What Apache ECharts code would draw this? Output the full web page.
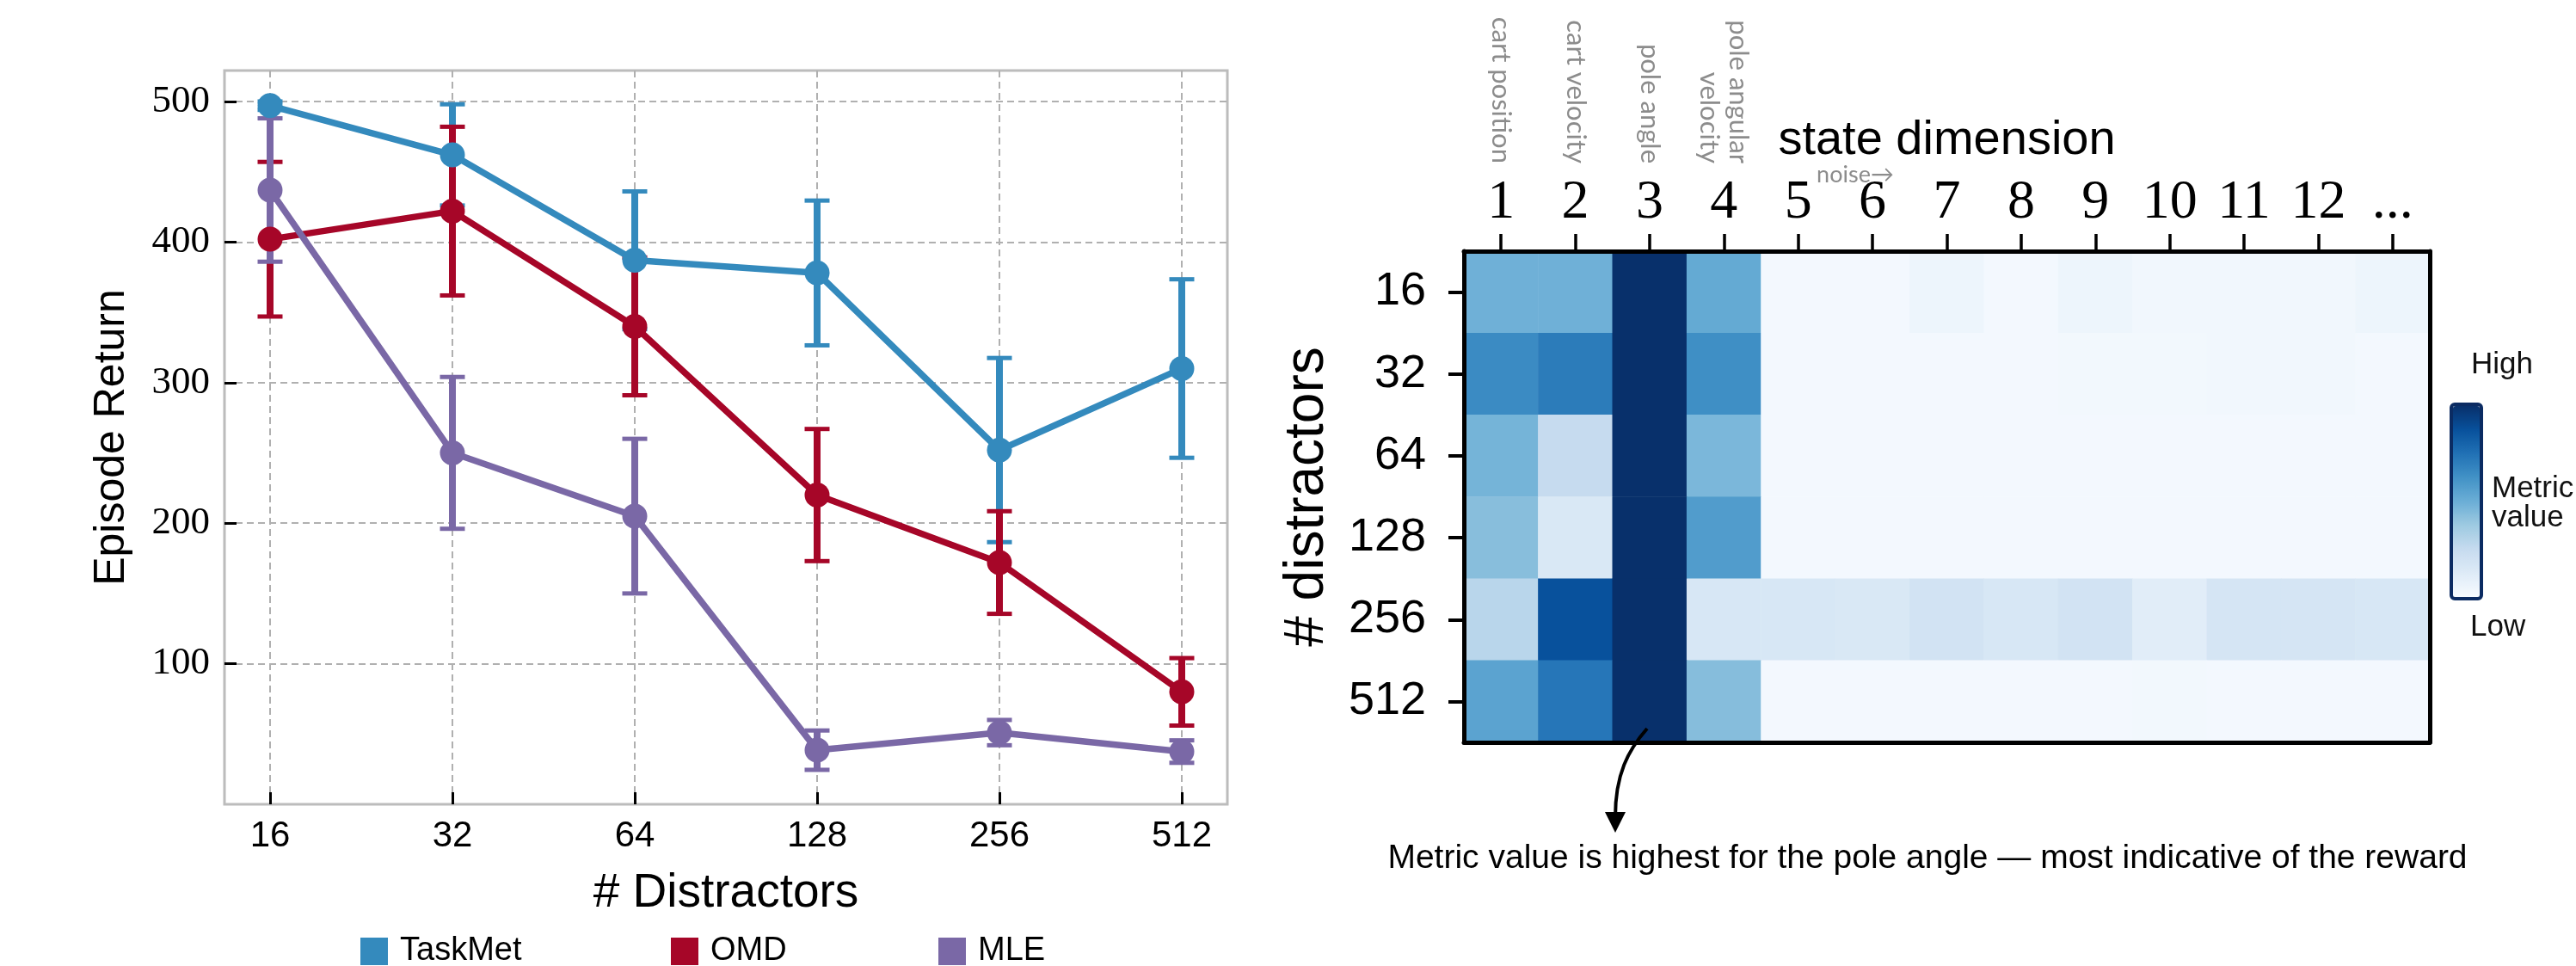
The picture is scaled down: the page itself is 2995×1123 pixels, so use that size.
<!DOCTYPE html>
<html>
<head>
<meta charset="utf-8">
<script src="https://cdn.jsdelivr.net/npm/echarts@6/dist/echarts.min.js"></script>
<style>html,body{margin:0;padding:0;background:#fff;}#c{width:2995px;height:1123px;}</style>
</head>
<body>
<div id="c"></div>
<script>
// ---------- Left panel data ----------
const xCats = ['16', '32', '64', '128', '256', '512'];
const yTicks = [100, 200, 300, 400, 500];
const taskMet = [497, 462, 387, 378, 252, 310];
const taskMetErr = [3, 36, 49, 51.5, 65.5, 63.5];
const omd = [402, 422, 340, 220, 172, 80];
const omdErr = [55, 60, 49, 47, 36.5, 24];
const mle = [437, 250, 205, 38.5, 51, 37.5];
const mleErr = [51, 54, 55, 14, 9, 8];
const seriesNames = ['TaskMet', 'OMD', 'MLE'];
const seriesColors = ['#348ABD', '#A60628', '#7A68A6'];

// ---------- Right panel data ----------
const distractors = ['16', '32', '64', '128', '256', '512'];
const stateDims = ['1', '2', '3', '4', '5', '6', '7', '8', '9', '10', '11', '12', '...'];
const dimNames = ['cart position', 'cart velocity', 'pole angle', 'pole angular\nvelocity', '', '', '', '', '', '', '', '', ''];
const row16  = [0.49, 0.49, 1.0, 0.52, 0.02, 0.02, 0.05, 0.02, 0.05, 0.03, 0.03, 0.03, 0.05];
const row32  = [0.65, 0.71, 1.0, 0.635, 0.02, 0.02, 0.02, 0.02, 0.025, 0.025, 0.03, 0.03, 0.02];
const row64  = [0.475, 0.25, 1.0, 0.46, 0.02, 0.02, 0.02, 0.02, 0.02, 0.02, 0.02, 0.02, 0.02];
const row128 = [0.43, 0.15, 1.0, 0.58, 0.02, 0.02, 0.02, 0.02, 0.02, 0.02, 0.02, 0.02, 0.02];
const row256 = [0.29, 0.875, 1.0, 0.16, 0.16, 0.15, 0.19, 0.16, 0.19, 0.11, 0.17, 0.17, 0.16];
const row512 = [0.55, 0.73, 1.0, 0.435, 0.02, 0.02, 0.02, 0.02, 0.02, 0.025, 0.02, 0.02, 0.02];
const heatRows = [row16, row32, row64, row128, row256, row512];
const bluesStops = ['#f7fbff', '#deebf7', '#c6dbef', '#9ecae1', '#6baed6', '#4292c6', '#2171b5', '#08519c', '#08306b'];

const SANS = "'Liberation Sans', Arial, sans-serif";
const SERIF = "'Liberation Serif', 'Times New Roman', serif";
const LATO = "Lato, 'Noto Sans', sans-serif";

const chart = echarts.init(document.getElementById('c'), null, {renderer: 'canvas'});

function errSeries(name, vals, errs, color) {
  return {
    type: 'custom', name: name + ' err', xAxisIndex: 0, yAxisIndex: 0, z: 2,
    data: vals.map((v, i) => [i, v - errs[i], v + errs[i]]),
    renderItem: function (params, api) {
      const x = api.value(0);
      const pLo = api.coord([x, api.value(1)]);
      const pHi = api.coord([x, api.value(2)]);
      const hw = 14.5;
      const st = {stroke: color, lineWidth: 8};
      const cs = {stroke: color, lineWidth: 5};
      return {type: 'group', children: [
        {type: 'line', shape: {x1: pLo[0], y1: pLo[1], x2: pHi[0], y2: pHi[1]}, style: st},
        {type: 'line', shape: {x1: pLo[0] - hw, y1: pLo[1], x2: pLo[0] + hw, y2: pLo[1]}, style: cs},
        {type: 'line', shape: {x1: pHi[0] - hw, y1: pHi[1], x2: pHi[0] + hw, y2: pHi[1]}, style: cs}
      ]};
    }
  };
}
function lineSeries(name, vals, color) {
  return {
    type: 'line', name: name, xAxisIndex: 0, yAxisIndex: 0, z: 3,
    data: vals.map((v, i) => [i, v]),
    symbol: 'circle', symbolSize: 29, showSymbol: true,
    lineStyle: {color: color, width: 7.5},
    itemStyle: {color: color},
    animation: false
  };
}
function legendItem(name, left) {
  return {
    data: [name], left: left, top: 1082, icon: 'rect', itemWidth: 32, itemHeight: 32,
    textStyle: {fontFamily: SANS, fontSize: 38, color: '#000', padding: [0, 0, 0, 9]}
  };
}

const heatData = [];
heatRows.forEach((row, r) => row.forEach((v, c) => heatData.push([c, r, v])));
const xIdx = xCats.map((_, i) => i);

const option = {
  animation: false,
  backgroundColor: '#ffffff',
  grid: [
    {left: 261, top: 82, width: 1166, height: 853, show: true, borderColor: '#bcbcbc', borderWidth: 3, backgroundColor: 'transparent'},
    {left: 1702, top: 292, width: 1123, height: 571, show: false}
  ],
  xAxis: [
    {
      type: 'value', gridIndex: 0, min: -0.25, max: 5.25,
      axisLine: {show: false, onZero: false},
      axisTick: {show: true, inside: true, length: 14, lineStyle: {color: '#000', width: 3}, customValues: xIdx},
      axisLabel: {customValues: xIdx, formatter: v => xCats[Math.round(v)], fontFamily: SANS, fontSize: 42, color: '#000', margin: 16},
      splitLine: {show: true, lineStyle: {color: '#b0b0b0', type: [8, 5], width: 2}},
      name: '# Distractors', nameLocation: 'middle', nameGap: 76,
      nameTextStyle: {fontFamily: SANS, fontSize: 55, color: '#000'}
    },
    {
      type: 'category', gridIndex: 1, data: stateDims, position: 'top', z: 5,
      axisLine: {show: true, lineStyle: {color: '#000', width: 5}},
      axisTick: {show: true, alignWithLabel: true, length: 20, lineStyle: {color: '#000', width: 3.5}},
      axisLabel: {fontFamily: SERIF, fontSize: 64, color: '#000', margin: 24, interval: 0},
      splitLine: {show: false},
      name: 'state dimension', nameLocation: 'middle', nameGap: 100,
      nameTextStyle: {fontFamily: SANS, fontSize: 56, color: '#000'}
    },
    {
      type: 'category', gridIndex: 1, data: dimNames, position: 'top', offset: 102,
      axisLine: {show: false}, axisTick: {show: false}, splitLine: {show: false},
      axisLabel: {rotate: 90, interval: 0, margin: 0, color: '#8c8c8c', fontFamily: LATO, fontSize: 31, lineHeight: 34}
    },
    {
      type: 'category', gridIndex: 1, data: stateDims, position: 'bottom', z: 5,
      axisLine: {show: true, onZero: false, lineStyle: {color: '#000', width: 5}},
      axisTick: {show: false}, axisLabel: {show: false}, splitLine: {show: false}
    }
  ],
  yAxis: [
    {
      type: 'value', gridIndex: 0, min: 0, max: 522, interval: 100,
      axisLine: {show: false, onZero: false},
      axisTick: {show: true, inside: true, length: 14, lineStyle: {color: '#000', width: 3}, customValues: yTicks},
      axisLabel: {customValues: yTicks, fontFamily: SERIF, fontSize: 45, color: '#000', margin: 17},
      splitLine: {show: true, lineStyle: {color: '#b0b0b0', type: [8, 5], width: 2}},
      name: 'Episode Return', nameLocation: 'middle', nameGap: 106,
      nameTextStyle: {fontFamily: SANS, fontSize: 50, color: '#000'}
    },
    {
      type: 'category', gridIndex: 1, data: distractors, inverse: true, position: 'left', z: 5,
      axisLine: {show: true, onZero: false, lineStyle: {color: '#000', width: 5}},
      axisTick: {show: true, alignWithLabel: true, length: 18, lineStyle: {color: '#000', width: 4}},
      axisLabel: {fontFamily: SANS, fontSize: 54, color: '#000', margin: 44},
      splitLine: {show: false},
      name: '# distractors', nameLocation: 'middle', nameGap: 150,
      nameTextStyle: {fontFamily: SANS, fontSize: 64, color: '#000'}
    },
    {
      type: 'category', gridIndex: 1, data: distractors, inverse: true, position: 'right', z: 5,
      axisLine: {show: true, onZero: false, lineStyle: {color: '#000', width: 5}},
      axisTick: {show: false}, axisLabel: {show: false}, splitLine: {show: false}
    }
  ],
  legend: [legendItem(seriesNames[0], 414), legendItem(seriesNames[1], 775), legendItem(seriesNames[2], 1086)],
  visualMap: {
    type: 'continuous', min: 0, max: 1, seriesIndex: 6, show: true, calculable: false, hoverLink: false,
    orient: 'vertical', left: 2852, top: 472, itemWidth: 31, itemHeight: 222, padding: 0,
    inRange: {color: bluesStops}
  },
  series: [
    errSeries('TaskMet', taskMet, taskMetErr, seriesColors[0]),
    errSeries('OMD', omd, omdErr, seriesColors[1]),
    errSeries('MLE', mle, mleErr, seriesColors[2]),
    lineSeries('TaskMet', taskMet, seriesColors[0]),
    lineSeries('OMD', omd, seriesColors[1]),
    lineSeries('MLE', mle, seriesColors[2]),
    {
      type: 'heatmap', xAxisIndex: 1, yAxisIndex: 1, data: heatData, z: 2,
      itemStyle: {borderWidth: 0}, emphasis: {disabled: true}
    }
  ],
  graphic: [
    {type: 'rect', z: 100, shape: {x: 2850, y: 470, width: 35, height: 226, r: 4}, style: {fill: null, stroke: '#0b2b62', lineWidth: 4}},
    {type: 'text', z: 100, x: 2873, y: 424, style: {text: 'High', fontFamily: SANS, fontSize: 35, fill: '#111', align: 'left', verticalAlign: 'middle'}},
    {type: 'text', z: 100, x: 2897, y: 551, style: {text: 'Metric\nvalue', fontFamily: SANS, fontSize: 35, lineHeight: 34, fill: '#111', align: 'left', verticalAlign: 'top'}},
    {type: 'text', z: 100, x: 2872, y: 729, style: {text: 'Low', fontFamily: SANS, fontSize: 35, fill: '#111', align: 'left', verticalAlign: 'middle'}},
    {type: 'text', z: 100, x: 2157, y: 203, style: {text: 'noise\u2192', fontFamily: LATO, fontSize: 27, fill: '#8c8c8c', align: 'center', verticalAlign: 'middle'}},
    {type: 'bezierCurve', z: 100, shape: {x1: 1915, y1: 847, cpx1: 1893, cpy1: 872, cpx2: 1878, cpy2: 900, x2: 1878, y2: 950}, style: {stroke: '#000', lineWidth: 4, fill: null}},
    {type: 'polygon', z: 100, shape: {points: [[1866, 944], [1890, 944], [1878, 968]]}, style: {fill: '#000'}},
    {type: 'text', z: 100, x: 2241, y: 998, style: {text: 'Metric value is highest for the pole angle \u2014 most indicative of the reward', fontFamily: SANS, fontSize: 39, fill: '#000', align: 'center', verticalAlign: 'middle'}}
  ]
};
chart.setOption(option);
</script>
</body>
</html>
